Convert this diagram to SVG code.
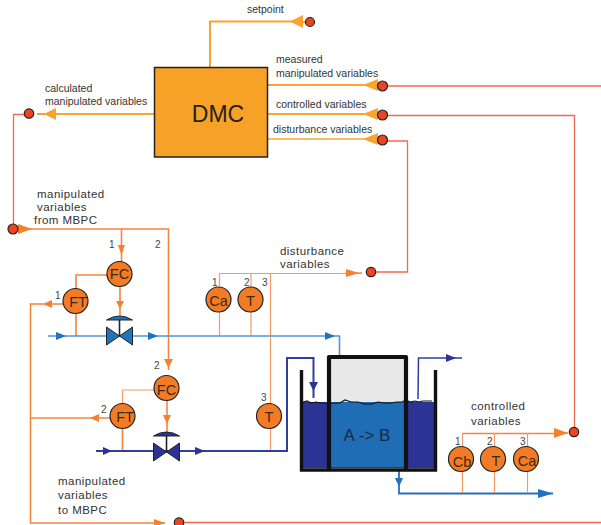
<svg xmlns="http://www.w3.org/2000/svg" width="601" height="525" viewBox="0 0 601 525">
<style>
text{font-family:"Liberation Sans",Arial,sans-serif;fill:#333}
.t{font-size:10.5px}
.s{font-size:11.5px;letter-spacing:.45px}
.n{font-size:10px;fill:#444}
.i{font-size:14.5px;text-anchor:middle;fill:#3a2a1a}
line,polyline{fill:none}
.yl{stroke:#f9a42f;stroke-width:2}
.yt{stroke:#f9a42f;stroke-width:1.5}
.rd{stroke:#f26a50;stroke-width:1.3}
.or{stroke:#f5843c;stroke-width:1.6}
.ot{stroke:#f59a66;stroke-width:1.2}
.lb{stroke:#4f96d8;stroke-width:1.6}
.db{stroke:#2f3f9e;stroke-width:2}
.mb{stroke:#2470b8;stroke-width:1.8}
.ya{fill:#f9a42f}.oa{fill:#f5812f}.la{fill:#1f74c0}.da{fill:#2b3494}
.dot{fill:#ec4524;stroke:#222;stroke-width:1.2}
.ins{fill:#f47b25;stroke:#222;stroke-width:1.2}
.vb{stroke:#222;stroke-width:1}
</style>
<defs>
<g id="valve"><path d="M-13 -9L13 9V-9L-13 9Z" class="vb"/><path d="M0 -18V0" stroke="#222" stroke-width="1.6" fill="none"/><path d="M-13 -16Q0 -24 13 -16Z" class="vb"/></g>
</defs>
<g id="connectors">
<polyline class="yl" points="210,67 210,21.5 303,21.5"/><line class="yl" x1="303" y1="22" x2="310" y2="22"/>
<line class="yl" x1="268" y1="85" x2="378" y2="85"/>
<line class="yl" x1="268" y1="114" x2="378" y2="114"/>
<line class="yt" x1="268" y1="139" x2="378" y2="139"/>
<line class="yl" x1="154" y1="114" x2="37" y2="114"/>
<line class="rd" x1="382" y1="86" x2="601" y2="86"/>
<polyline class="rd" points="382,115.5 574.5,115.5 574.5,432"/>
<polyline class="rd" points="382,141 407.5,141 407.5,272 371,272"/>
<polyline class="rd" points="29,114.5 13.5,114.5 13.5,229"/>
<line class="rd" x1="179" y1="522.5" x2="601" y2="522.5"/>
<polyline class="or" points="13,229 168.5,229 168.5,370"/>
<line class="or" x1="121.5" y1="229" x2="121.5" y2="262"/>
<polyline class="or" points="107,275 76,275 76,289"/>
<polyline class="or" points="76,313 76,336"/>
<line class="or" x1="120" y1="286" x2="120" y2="316"/>
<polyline class="or" points="63,304 30.5,304 30.5,523 165,523"/>
<line class="or" x1="30.5" y1="418" x2="110" y2="418"/>
<polyline class="ot" points="154,390 122.5,390 122.5,404"/>
<line class="or" x1="122.5" y1="428" x2="122.5" y2="451"/>
<line class="or" x1="167" y1="400" x2="167" y2="434"/>
<polyline class="ot" points="219.5,286 219.5,273.5 360,273.5"/>
<line class="or" x1="345" y1="273.5" x2="362" y2="273"/>
<line class="ot" x1="219.5" y1="312" x2="219.5" y2="336"/>
<line class="ot" x1="251" y1="273.5" x2="251" y2="287"/>
<line class="ot" x1="251" y1="312" x2="251" y2="336"/>
<line class="ot" x1="270.5" y1="273.5" x2="270.5" y2="404"/>
<line class="ot" x1="270.5" y1="428" x2="270.5" y2="451"/>
<polyline class="lb" points="48,336 339.5,336 339.5,355"/>
<polyline class="db" points="96,451 287,451 287,358 313.5,358 313.5,398"/>
<polyline class="db" style="stroke-width:1.5" points="418,399 418.5,358 462,358"/>
<polyline class="mb" points="399,470 399,493.5 553,493.5"/>
<polyline class="or" points="463,433.5 554,433.5"/>
<line class="or" x1="554" y1="433" x2="568" y2="433"/>
<line class="ot" x1="462.5" y1="433" x2="462.5" y2="447"/>
<line class="ot" x1="462.5" y1="471" x2="462.5" y2="493"/>
<line class="ot" x1="494.5" y1="433" x2="494.5" y2="447"/>
<line class="ot" x1="494.5" y1="471" x2="494.5" y2="493"/>
<line class="ot" x1="527.5" y1="433" x2="527.5" y2="447"/>
<line class="ot" x1="527.5" y1="471" x2="527.5" y2="493"/>
<g class="ya">
<path d="M290 21.5L303 15V28Z"/>
<path d="M363 85L378 79V91Z"/>
<path d="M363 114L378 108V120Z"/>
<path d="M363 139L378 133V145Z"/>
<path d="M44 114L56 108V120Z"/>
</g>
<g class="oa">
<path d="M32 229L18 224V234Z"/>
<path d="M121.5 255L118 245H125Z"/>
<path d="M168.5 368L164 359H173Z"/>
<path d="M120 309L116 301H124Z"/>
<path d="M167 424L163 415H171Z"/>
<path d="M43 304L52 300V308Z"/>
<path d="M90 418L99 414V422Z"/>
<path d="M165 523L154 519V527Z"/>
<path d="M359 273L346 269V277Z"/>
<path d="M568 433L554 428V438Z"/>
</g>
<g class="la">
<path d="M66 336L56 332V340Z"/>
<path d="M158 336L148 332V340Z"/>
<path d="M335 336L325 332V340Z"/>
<path d="M399 487L395 478H403Z"/>
<path d="M553 493.5L538 489V498Z"/>
</g>
<g class="da">
<path d="M112 451L103 447V455Z"/>
<path d="M205 451L195 447V455Z"/>
<path d="M313.5 391L309 382H318Z"/>
<path d="M456 358L446 354V362Z"/>
</g>
</g>
<g id="dmc"><rect x="154.5" y="67.5" width="113" height="89.5" fill="#f7a127" stroke="#222" stroke-width="1.5"/><text x="218" y="122" font-size="23" text-anchor="middle" style="fill:#222">DMC</text></g>
<g id="junctions">
<circle class="dot" cx="310" cy="22" r="4.5"/>
<circle class="dot" cx="382.5" cy="86" r="5"/>
<circle class="dot" cx="382.5" cy="115" r="5"/>
<circle class="dot" cx="382.5" cy="140" r="5"/>
<circle class="dot" cx="29" cy="113.5" r="4.7"/>
<circle class="dot" cx="13" cy="229" r="5"/>
<circle class="dot" cx="371" cy="272" r="4.7"/>
<circle class="dot" cx="574" cy="432" r="4.7"/>
<circle class="dot" cx="179" cy="522.5" r="4.7"/>
</g>
<g id="valve1"><use href="#valve" x="119.5" y="336" fill="#1f74c0"/></g>
<g id="valve2"><use href="#valve" x="166.5" y="452" fill="#2b3494"/></g>
<g id="fc1"><circle class="ins" cx="119.5" cy="274" r="12.5"/><text class="i" x="119.5" y="279">FC</text></g>
<g id="ft1"><circle class="ins" cx="75.5" cy="301" r="12.5"/><text class="i" x="78" y="307">FT</text></g>
<g id="fc2"><circle class="ins" cx="166.5" cy="388" r="12.5"/><text class="i" x="166.5" y="395">FC</text></g>
<g id="ft2"><circle class="ins" cx="122.5" cy="416" r="12.5"/><text class="i" x="125" y="422">FT</text></g>
<g id="ca1"><circle class="ins" cx="218.5" cy="299.5" r="12.5"/><text class="i" x="218.5" y="306">Ca</text></g>
<g id="t1"><circle class="ins" cx="250.5" cy="299.5" r="12.5"/><text class="i" x="250.5" y="306">T</text></g>
<g id="t2"><circle class="ins" cx="269" cy="416" r="12.5"/><text class="i" x="269" y="422">T</text></g>
<g id="cb"><circle class="ins" cx="461" cy="459" r="12.5"/><text class="i" x="462" y="467">Cb</text></g>
<g id="t3"><circle class="ins" cx="493" cy="459" r="12.5"/><text class="i" x="496" y="466">T</text></g>
<g id="ca2"><circle class="ins" cx="526" cy="459" r="12.5"/><text class="i" x="527" y="466">Ca</text></g>
<g id="reactor">
<rect x="302" y="402" width="132" height="66" fill="#2b3494"/>
<rect x="330" y="357" width="75" height="46" fill="#e8e8e8"/>
<rect x="330" y="402" width="75" height="65" fill="#1e6db5"/>
<path d="M303 402l4 -1 4 2 5 -1 4 1 5 0 4 1 5 -1 6 0 5 -3 6 2 7 0 6 2 8 0 6 -2 6 1 7 0 6 -1 5 0 4 -2 4 2 5 -1 4 1 4 -1 5 0 4 0" stroke="#111" stroke-width="1.2" fill="none"/>
<path d="M301.5 370V470H435.5V370" stroke="#111" stroke-width="3.4" fill="none"/>
<path d="M329 470V357H406V470" stroke="#111" stroke-width="4.2" fill="none" stroke-linejoin="round"/>
<text x="367" y="441" font-size="17" text-anchor="middle" style="fill:#1b2a45">A -&gt; B</text>
</g>
<g id="labels">
<text class="t" x="247" y="13">setpoint</text>
<text class="t" x="276" y="63">measured</text>
<text class="t" x="276" y="77">manipulated variables</text>
<text class="t" x="276" y="108">controlled variables</text>
<text class="t" x="273" y="133">disturbance variables</text>
<text class="t" x="45" y="92">calculated</text>
<text class="t" x="45" y="105">manipulated variables</text>
<text class="s" x="37" y="198">manipulated</text>
<text class="s" x="37" y="211">variables</text>
<text class="s" x="34" y="224">from MBPC</text>
<text class="s" x="280" y="255">disturbance</text>
<text class="s" x="280" y="268">variables</text>
<text class="s" x="58" y="485">manipulated</text>
<text class="s" x="58" y="499">variables</text>
<text class="s" x="58" y="514">to MBPC</text>
<text class="s" x="471" y="410">controlled</text>
<text class="s" x="471" y="425">variables</text>
<text class="n" x="109" y="248">1</text><text class="n" x="155" y="248">2</text>
<text class="n" x="55" y="299">1</text><text class="n" x="154" y="369">2</text>
<text class="n" x="101" y="413">2</text><text class="n" x="212" y="286">1</text>
<text class="n" x="244" y="286">2</text><text class="n" x="262" y="286">3</text>
<text class="n" x="261" y="401">3</text>
<text class="n" x="455" y="445">1</text><text class="n" x="487" y="445">2</text><text class="n" x="520" y="445">3</text>
</g>
</svg>
